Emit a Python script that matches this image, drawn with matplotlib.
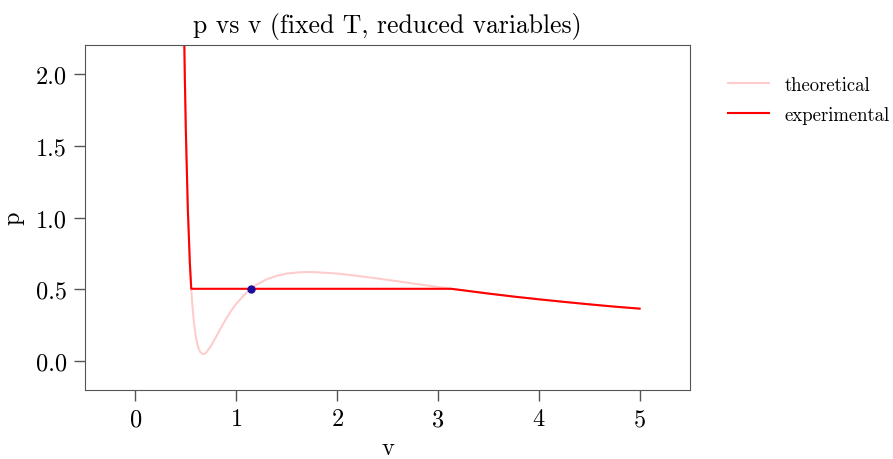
'''
van der Waals isotherm in reduced variables: theoretical curve vs
Maxwell-constructed (experimental) curve
'''

import matplotlib
matplotlib.use("Agg")
import matplotlib.pyplot as plt

plt.rcParams['font.family'] = ['cmr10', 'DejaVu Serif']
plt.rcParams['mathtext.fontset'] = 'cm'
plt.rcParams['axes.formatter.use_mathtext'] = True

# theoretical isotherm
V_THEO = [0.47, 0.48, 0.49, 0.50, 0.52, 0.54, 0.56, 0.58, 0.60, 0.62, 0.64,
          0.66, 0.68, 0.70, 0.75, 0.80, 0.85, 0.90, 0.95, 1.00, 1.10, 1.20,
          1.30, 1.40, 1.50, 1.60, 1.70, 1.80, 2.00, 2.20, 2.40, 2.60, 2.80,
          3.00, 3.20, 3.50, 3.75, 4.00, 4.25, 4.50, 4.75, 5.00]
P_THEO = [3.00, 2.43, 1.97, 1.60, 1.05, 0.68, 0.43, 0.27, 0.167, 0.103, 0.067,
          0.052, 0.050, 0.059, 0.107, 0.170, 0.235, 0.296, 0.352, 0.400, 0.477, 0.532,
          0.570, 0.594, 0.610, 0.617, 0.621, 0.619, 0.610, 0.594, 0.576, 0.556, 0.536,
          0.517, 0.498, 0.471, 0.450, 0.431, 0.413, 0.396, 0.380, 0.366]

# experimental isotherm (flat coexistence segment)
V_EXP = [0.47, 0.48, 0.49, 0.50, 0.52, 0.54, 0.5535, 3.13, 3.20, 3.50, 3.75,
         4.00, 4.25, 4.50, 4.75, 5.00]
P_EXP = [3.00, 2.43, 1.97, 1.60, 1.05, 0.68, 0.504, 0.504, 0.498, 0.471, 0.450,
         0.431, 0.413, 0.396, 0.380, 0.366]

# marked state point
V_POINT = [1.146]
P_POINT = [0.504]

GRAY = '#555555'


def main():
    fig = plt.figure(figsize=(8.93, 4.6), dpi=100)
    ax = fig.add_axes([0.0952, 0.15, 0.6775, 0.75])

    ax.plot(V_THEO, P_THEO, color='red', alpha=0.2, lw=1.5, label='theoretical')
    ax.plot(V_EXP, P_EXP, color='red', lw=1.5, label='experimental')
    ax.scatter(V_POINT, P_POINT, color='#1f0c9c', s=25, zorder=5)

    ax.set_xlim(-0.5, 5.5)
    ax.set_ylim(-0.2, 2.2)
    ax.set_xticks([0, 1, 2, 3, 4, 5])
    ax.set_yticks([0.0, 0.5, 1.0, 1.5, 2.0])
    ax.set_yticklabels(['0.0', '0.5', '1.0', '1.5', '2.0'])

    for s in ax.spines.values():
        s.set_color(GRAY)
    ax.tick_params(direction='out', length=8, width=1, color=GRAY,
                   labelsize=17.5, pad=5)

    ax.set_title('p vs v (fixed T, reduced variables)', fontsize=18.5, pad=9)
    ax.set_xlabel('v', fontsize=17.5, labelpad=5)
    ax.set_ylabel('p', fontsize=17.5, labelpad=8)

    ax.legend(loc='upper left', bbox_to_anchor=(1.035, 0.96), frameon=False,
              fontsize=13.5, handlelength=2.2, labelspacing=0.65)

    fig.savefig('out.png', dpi=100)


if __name__ == "__main__":
    main()
